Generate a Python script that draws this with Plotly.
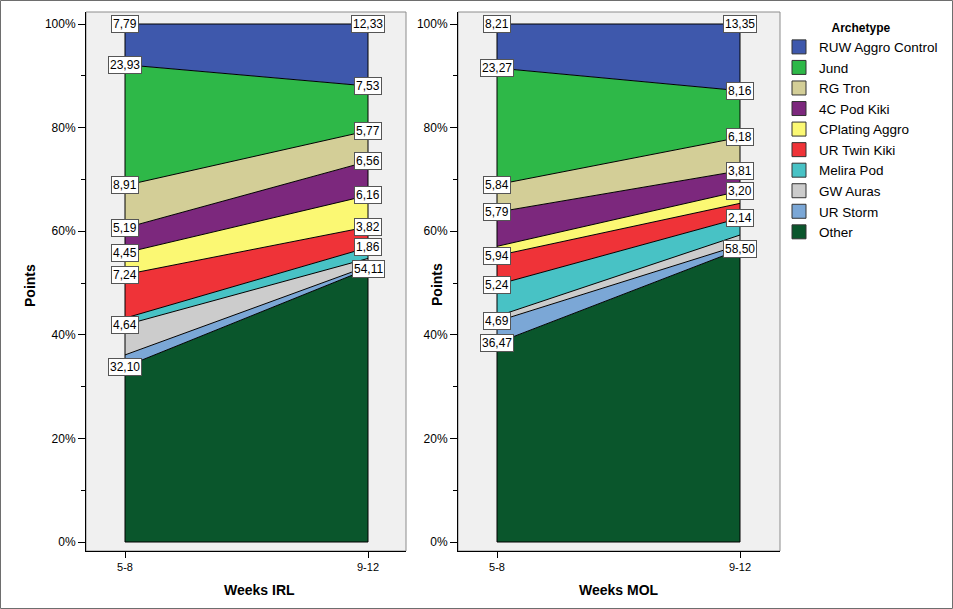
import plotly.graph_objects as go

# ---------------- data ----------------
archetypes = ["RUW Aggro Control", "Jund", "RG Tron", "4C Pod Kiki", "CPlating Aggro",
              "UR Twin Kiki", "Melira Pod", "GW Auras", "UR Storm", "Other"]
weeks = ["5-8", "9-12"]

# share of points (%) per archetype (legend order, top of stack first), read from the areas
irl_5_8 = [7.86, 23.3, 8.2, 4.8, 4.2, 8.4, 1.3, 5.8, 2.3, 33.8]
irl_9_12 = [11.97, 8.63, 5.9, 6.56, 6.06, 3.98, 2.12, 1.5, 0.5, 52.7]
mol_5_8 = [8.49, 22.5, 5.3, 6.6, 1.8, 5.6, 6.1, 0.97, 4.17, 38.4]
mol_9_12 = [12.88, 9.0, 6.45, 3.92, 2.37, 2.84, 3.28, 1.93, 0.83, 56.5]

# value labels printed on the chart (None = no label shown)
irl_5_8_labels = ["7,79", "23,93", "8,91", "5,19", "4,45", "7,24", None, "4,64", None, "32,10"]
irl_9_12_labels = ["12,33", "7,53", "5,77", "6,56", "6,16", "3,82", "1,86", None, None, "54,11"]
mol_5_8_labels = ["8,21", "23,27", "5,84", "5,79", None, "5,94", "5,24", None, "4,69", "36,47"]
mol_9_12_labels = ["13,35", "8,16", "6,18", "3,81", "3,20", None, "2,14", None, None, "58,50"]

y_tick_vals = [0, 20, 40, 60, 80, 100]
y_tick_text = ["0%", "20%", "40%", "60%", "80%", "100%"]

colors = ["#3E58AC", "#2EB848", "#D3CE97", "#7C287D", "#FBF873",
          "#EF3338", "#48C2C5", "#CCCCCC", "#7BA7D6", "#0A562C"]

# ---------------- layout geometry ----------------
W, H = 953, 609
FONT = "Liberation Sans, Arial, sans-serif"

def px_x(p):
    return p / W

def px_y(p):
    return 1 - p / H

panels = [
    dict(name="IRL", xa="x", ya="y", series=[irl_5_8, irl_9_12],
         labels=[irl_5_8_labels, irl_9_12_labels], dom=(86, 406), first=125),
    dict(name="MOL", xa="x2", ya="y2", series=[mol_5_8, mol_9_12],
         labels=[mol_5_8_labels, mol_9_12_labels], dom=(458, 780), first=497),
]
unit_px = 243          # px between the two week positions
y_top_px, y_bot_px = 12, 551
y0_px, y100_px = 542, 24
px_per_pct = (y0_px - y100_px) / 100.0
y_range = [-(y_bot_px - y0_px) / px_per_pct, 100 + (y100_px - y_top_px) / px_per_pct]

fig = go.Figure()
annotations = []
xs = list(range(len(weeks)))

for p in panels:
    # stacked areas, bottom (Other) first
    for i in reversed(range(len(archetypes))):
        fig.add_trace(go.Scatter(
            x=xs, y=[p["series"][k][i] for k in xs],
            mode="lines", stackgroup=p["name"], groupnorm="percent",
            line=dict(color="black", width=1), fillcolor=colors[i],
            name=archetypes[i], showlegend=False, hoverinfo="skip",
            xaxis=p["xa"], yaxis=p["ya"]))
    # outline of the stack at its two ends and along the base
    full = 100.0
    fig.add_trace(go.Scatter(
        x=[xs[0], xs[0], None, xs[-1], xs[-1], None, xs[0], xs[-1]],
        y=[0, full, None, 0, full, None, 0, 0],
        mode="lines", line=dict(color="black", width=1), showlegend=False,
        hoverinfo="skip", xaxis=p["xa"], yaxis=p["ya"]))
    # value labels at the top edge of each band
    for k in xs:
        vals = p["series"][k]
        tot = sum(vals)
        for i, lab in enumerate(p["labels"][k]):
            if lab is None:
                continue
            top = sum(vals[i:]) / tot * 100
            annotations.append(dict(
                x=k, y=top, xref=p["xa"], yref=p["ya"], text=lab, showarrow=False,
                xanchor="center", yanchor="middle",
                font=dict(family=FONT, size=12, color="black"),
                bgcolor="white", bordercolor="#555555", borderwidth=1, borderpad=1))

# legend entries (square swatches)
for i, a in enumerate(archetypes):
    fig.add_trace(go.Scatter(
        x=[None], y=[None], mode="markers", name=a, legendrank=i + 1,
        marker=dict(symbol="square", size=14, color=colors[i],
                    line=dict(color="#333333", width=1)),
        xaxis="x", yaxis="y", hoverinfo="skip"))

axis_font = dict(family=FONT, size=12, color="black")
layout = dict(
    width=W, height=H, margin=dict(l=0, r=0, t=0, b=0),
    paper_bgcolor="white", plot_bgcolor="#F0F0F0",
    font=dict(family=FONT, color="black"),
    showlegend=True,
    legend=dict(x=px_x(779), y=px_y(16), xanchor="left", yanchor="top",
                traceorder="normal",
                font=dict(family=FONT, size=13.5, color="black"),
                title=dict(text="<b>Archetype</b>", side="top center",
                           font=dict(family=FONT, size=12, color="black")),
                bgcolor="rgba(0,0,0,0)", tracegroupgap=0),
)

for j, p in enumerate(panels):
    d0, d1 = p["dom"]
    lo = -(p["first"] - d0) / unit_px
    hi = (d1 - p["first"]) / unit_px
    sfx = "" if j == 0 else str(j + 1)
    layout["xaxis" + sfx] = dict(
        domain=[px_x(d0), px_x(d1)], range=[lo, hi], anchor="y" + sfx,
        tickmode="array", tickvals=xs, ticktext=weeks, ticks="outside", ticklen=6,
        tickcolor="black", showline=True, linecolor="black", linewidth=1,
        showgrid=False, zeroline=False, tickfont=dict(family=FONT, size=11, color="black"),
        automargin=False)
    layout["yaxis" + sfx] = dict(
        domain=[px_y(y_bot_px), px_y(y_top_px)], range=y_range, anchor="x" + sfx,
        tickmode="array", tickvals=y_tick_vals, ticktext=y_tick_text,
        ticks="outside", ticklen=7, tickcolor="black",
        minor=dict(tickvals=[10, 30, 50, 70, 90], ticks="outside", ticklen=4, tickcolor="black"),
        showline=True, linecolor="black", linewidth=1, showgrid=False, zeroline=False,
        tickfont=axis_font, automargin=False)

# tick marks on the right edge of the first panel
layout["yaxis3"] = dict(overlaying="y", side="right", anchor="x", range=y_range,
                        tickmode="linear", tick0=0, dtick=10, ticks="outside", ticklen=3,
                        tickcolor="black", showticklabels=False, showgrid=False,
                        zeroline=False, showline=False, automargin=False)

fig.update_layout(**layout)

# panel frames and outer border
shapes = []
for j, p in enumerate(panels):
    sfx = "" if j == 0 else str(j + 1)
    shapes.append(dict(type="rect", xref="x" + sfx + " domain", yref="y" + sfx + " domain",
                       x0=0, x1=1, y0=0, y1=1, line=dict(color="#8C8C8C", width=1),
                       fillcolor="rgba(0,0,0,0)", layer="below"))
shapes.append(dict(type="rect", xref="paper", yref="paper", x0=0.5 / W, x1=1 - 0.5 / W,
                   y0=0.5 / H, y1=1 - 0.5 / H, line=dict(color="#6E6E6E", width=1),
                   fillcolor="rgba(0,0,0,0)", layer="above"))
fig.update_layout(shapes=shapes)

# axis titles
title_font = dict(family=FONT, size=14, color="black")
def title_ann(text, x, y, angle=0):
    return dict(text=text, x=px_x(x), y=px_y(y), xref="paper", yref="paper",
                xanchor="center", yanchor="middle", textangle=angle,
                showarrow=False, font=title_font)

annotations += [
    title_ann("<b>Points</b>", 30, 285, -90),
    title_ann("<b>Points</b>", 437, 285, -90),
    title_ann("<b>Weeks IRL</b>", 259, 590),
    title_ann("<b>Weeks MOL</b>", 619, 590),
]
fig.update_layout(annotations=annotations)

fig.write_html("out.html", include_plotlyjs=True, full_html=True,
               config={"displayModeBar": False},
               post_script="document.body.style.margin='0px';document.body.style.overflow='hidden';")
